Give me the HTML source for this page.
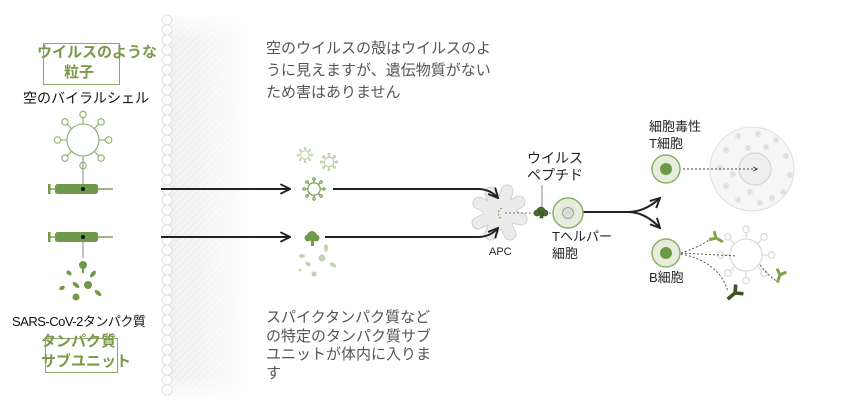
<!DOCTYPE html>
<html><head><meta charset="utf-8"><style>
html,body{margin:0;padding:0;background:#fff;}
body{width:864px;height:415px;overflow:hidden;position:relative;font-family:"Liberation Sans","Noto Sans CJK JP",sans-serif;}
.t{position:absolute;white-space:nowrap;}
</style></head><body>
<svg width="864" height="415" style="position:absolute;left:0;top:0">
<defs>
<pattern id="hat" width="5" height="5" patternUnits="userSpaceOnUse" patternTransform="rotate(45)">
<rect width="5" height="5" fill="#f2f2f2"/><line x1="0" y1="0" x2="0" y2="5" stroke="#e4e4e4" stroke-width="1.5"/>
</pattern>
<linearGradient id="fade" x1="0" x2="1" y1="0" y2="0">
<stop offset="0" stop-color="#fff" stop-opacity="0"/><stop offset="0.3" stop-color="#fff" stop-opacity="0.2"/><stop offset="1" stop-color="#fff" stop-opacity="1"/>
</linearGradient>
<linearGradient id="fadev" x1="0" x2="0" y1="0" y2="1">
<stop offset="0" stop-color="#fff" stop-opacity="1"/><stop offset="0.08" stop-color="#fff" stop-opacity="0"/><stop offset="0.92" stop-color="#fff" stop-opacity="0"/><stop offset="1" stop-color="#fff" stop-opacity="1"/>
</linearGradient>
<g id="vir" fill="none">
<circle r="10"/>
<g id="sp"><line x1="0" y1="-10" x2="0" y2="-14"/><circle cx="0" cy="-16" r="2"/></g>
<use href="#sp" transform="rotate(45)"/><use href="#sp" transform="rotate(90)"/><use href="#sp" transform="rotate(135)"/>
<use href="#sp" transform="rotate(180)"/><use href="#sp" transform="rotate(225)"/><use href="#sp" transform="rotate(270)"/><use href="#sp" transform="rotate(315)"/>
</g>
<marker id="ah" viewBox="0 0 10 10" refX="9" refY="5" markerWidth="6" markerHeight="6" orient="auto"><path d="M1,1 L9,5 L1,9" fill="none" stroke="#222" stroke-width="1.6"/></marker>
<marker id="ah2" viewBox="0 0 10 10" refX="9" refY="5" markerWidth="7" markerHeight="7" orient="auto"><path d="M2,2 L8,5 L2,8" fill="none" stroke="#444" stroke-width="1.2"/></marker>
<g id="ab"><path d="M0,8 L0,0 L-5,-5 M0,0 L5,-5" fill="none" stroke="#7aa648" stroke-width="3"/></g>
<g id="star"><path d="M0,-3 L0,3 M-3,0 L3,0 M-2.1,-2.1 L2.1,2.1 M-2.1,2.1 L2.1,-2.1" stroke="#e0e0e0" stroke-width="1.6"/></g>
<g id="apcarms">
<line x1="500" y1="213" x2="507" y2="191"/><line x1="500" y1="213" x2="519" y2="202"/><line x1="500" y1="213" x2="521" y2="219"/><line x1="500" y1="213" x2="510" y2="234"/><line x1="500" y1="213" x2="491" y2="234"/><line x1="500" y1="213" x2="478" y2="223"/><line x1="500" y1="213" x2="479" y2="203"/><line x1="500" y1="213" x2="491" y2="193"/>
</g>
</defs>
<!-- membrane -->
<rect x="166" y="15" width="90" height="385" fill="url(#hat)"/>
<rect x="166" y="15" width="90" height="385" fill="url(#fade)"/>
<rect x="160" y="10" width="100" height="395" fill="url(#fadev)"/>
<g fill="#fff" stroke="#e2e2e2" stroke-width="1">
<circle cx="167" cy="20" r="5"/><circle cx="167" cy="30" r="5"/><circle cx="167" cy="40" r="5"/><circle cx="167" cy="50" r="5"/><circle cx="167" cy="60" r="5"/><circle cx="167" cy="70" r="5"/><circle cx="167" cy="80" r="5"/><circle cx="167" cy="90" r="5"/><circle cx="167" cy="100" r="5"/><circle cx="167" cy="110" r="5"/><circle cx="167" cy="120" r="5"/><circle cx="167" cy="130" r="5"/><circle cx="167" cy="140" r="5"/><circle cx="167" cy="150" r="5"/><circle cx="167" cy="160" r="5"/><circle cx="167" cy="170" r="5"/><circle cx="167" cy="180" r="5"/><circle cx="167" cy="190" r="5"/><circle cx="167" cy="200" r="5"/><circle cx="167" cy="210" r="5"/><circle cx="167" cy="220" r="5"/><circle cx="167" cy="230" r="5"/><circle cx="167" cy="240" r="5"/><circle cx="167" cy="250" r="5"/><circle cx="167" cy="260" r="5"/><circle cx="167" cy="270" r="5"/><circle cx="167" cy="280" r="5"/><circle cx="167" cy="290" r="5"/><circle cx="167" cy="300" r="5"/><circle cx="167" cy="310" r="5"/><circle cx="167" cy="320" r="5"/><circle cx="167" cy="330" r="5"/><circle cx="167" cy="340" r="5"/><circle cx="167" cy="350" r="5"/><circle cx="167" cy="360" r="5"/><circle cx="167" cy="370" r="5"/><circle cx="167" cy="380" r="5"/><circle cx="167" cy="390" r="5"/>
</g>
<!-- label boxes -->
<rect x="43.5" y="43.5" width="76" height="41" fill="none" stroke="#8aa86a"/>
<rect x="45.5" y="338.5" width="72" height="34" fill="none" stroke="#8aa86a"/>
<!-- left virus -->
<use href="#vir" transform="translate(83,140) scale(1.6)" stroke="#8ab06a" stroke-width="0.7"/>
<line x1="83" y1="158" x2="83" y2="189" stroke="#888"/>
<line x1="83" y1="237" x2="83" y2="258" stroke="#888"/>
<!-- syringes -->
<g id="syr">
<line x1="48" y1="189" x2="113" y2="189" stroke="#7aa352" stroke-width="1.5"/>
<rect x="48" y="184" width="2.5" height="10" fill="#6f9a4a"/>
<rect x="55" y="184" width="43" height="10" rx="2.5" fill="#6f9a4a"/>
<circle cx="83" cy="189" r="2" fill="#111"/>
</g>
<use href="#syr" transform="translate(0,48)"/>
<!-- protein fragments left -->
<g fill="#6f9a4a">
<circle cx="83" cy="265" r="4"/><rect x="82" y="267" width="2" height="6"/>
<ellipse cx="69" cy="273" rx="3" ry="2" transform="rotate(40 69 273)"/>
<ellipse cx="93" cy="274" rx="4" ry="2" transform="rotate(-50 93 274)"/>
<ellipse cx="76" cy="285" rx="4" ry="2" transform="rotate(40 76 285)"/>
<circle cx="88" cy="285" r="4"/>
<ellipse cx="62" cy="288" rx="3" ry="2" transform="rotate(-30 62 288)"/>
<ellipse cx="98" cy="293" rx="4" ry="2" transform="rotate(40 98 293)"/>
<circle cx="76" cy="297" r="3.5"/>
</g>
<!-- APC -->
<use href="#apcarms" stroke="#cfcfcf" stroke-width="13" stroke-linecap="round"/>
<circle cx="500" cy="213" r="17" fill="#cfcfcf"/>
<use href="#apcarms" stroke="#ebebeb" stroke-width="11" stroke-linecap="round"/>
<circle cx="500" cy="213" r="16" fill="#ebebeb"/>
<!-- arrows -->
<g stroke="#222" stroke-width="2" fill="none">
<path d="M161,189 H290" marker-end="url(#ah)"/>
<path d="M161,237 H290" marker-end="url(#ah)"/>
<path d="M333,189 H478 Q490,189 498,198" marker-end="url(#ah)"/>
<path d="M325,237 H478 Q490,237 498,228" marker-end="url(#ah)"/>
<path d="M583,212 H628 Q645,212 660,198" marker-end="url(#ah)"/>
<path d="M628,212 Q645,212 660,228" marker-end="url(#ah)"/>
</g>
<!-- middle viruses -->
<use href="#vir" transform="translate(305,155) scale(0.42)" stroke="#b8cc9e" stroke-width="2.2"/>
<use href="#vir" transform="translate(329,162) scale(0.48)" stroke="#b8cc9e" stroke-width="2.2"/>
<use href="#vir" transform="translate(314,189) scale(0.62)" stroke="#6f9a4a" stroke-width="1.8"/>
<g fill="#6f9a4a"><circle cx="312" cy="236" r="5"/><circle cx="308" cy="238" r="3.5"/><circle cx="316" cy="238" r="3.5"/><rect x="311" y="238" width="3" height="8"/></g>
<g fill="#c4d4b0">
<ellipse cx="326" cy="248" rx="2" ry="4"/><ellipse cx="302" cy="256" rx="3" ry="2"/><circle cx="322" cy="258" r="3.5"/><ellipse cx="308" cy="264" rx="3" ry="2" transform="rotate(30 308 264)"/><ellipse cx="333" cy="265" rx="3.5" ry="2" transform="rotate(30 333 265)"/><circle cx="314" cy="274" r="2.5"/><circle cx="300" cy="270" r="1.5"/>
</g>
<path d="M502,208 a6,6 0 0 0 0,11" fill="none" stroke="#7aa352" stroke-width="1.2" stroke-dasharray="2 1.5"/>
<line x1="505" y1="213" x2="575" y2="213" stroke="#777" stroke-dasharray="2 2"/>
<line x1="542" y1="185" x2="542" y2="208" stroke="#888"/>
<g fill="#4a6e30" stroke="#2c4418" stroke-width="0.6"><circle cx="541" cy="211" r="4"/><circle cx="537" cy="213" r="3"/><circle cx="545" cy="213" r="3"/><rect x="540" y="213" width="3" height="5"/></g>
<!-- T helper -->
<circle cx="568" cy="213" r="15" fill="#e6eddc" stroke="#8ab06a" stroke-width="1.5"/>
<circle cx="568" cy="213" r="5.5" fill="#dcdcdc" stroke="#9aaa88"/>
<!-- cytotoxic -->
<circle cx="752" cy="169" r="42" fill="#f6f6f6" stroke="#dedede"/>
<g>
<use href="#star" x="738" y="136"/><use href="#star" x="758" y="134"/><use href="#star" x="776" y="140"/><use href="#star" x="726" y="150"/><use href="#star" x="786" y="156"/><use href="#star" x="720" y="168"/><use href="#star" x="790" y="175"/><use href="#star" x="726" y="186"/><use href="#star" x="783" y="192"/><use href="#star" x="738" y="200"/><use href="#star" x="760" y="203"/><use href="#star" x="772" y="198"/><use href="#star" x="748" y="148"/><use href="#star" x="733" y="174"/><use href="#star" x="766" y="147"/><use href="#star" x="750" y="192"/>
</g>
<circle cx="755" cy="169" r="16" fill="#efefef" stroke="#cfcfcf"/>
<line x1="683" y1="169" x2="758" y2="169" stroke="#444" stroke-dasharray="2 2" marker-end="url(#ah2)"/>
<circle cx="666" cy="169" r="14" fill="#e6eddc" stroke="#8ab06a" stroke-width="1.5"/>
<circle cx="666" cy="169" r="6" fill="#6b9a47"/>
<!-- B cell -->
<use href="#vir" transform="translate(746,255) scale(1.6)" stroke="#dcdcdc" stroke-width="0.8"/>
<g stroke="#555" fill="none" stroke-dasharray="2 2">
<path d="M681,253 Q705,245 712,237"/><path d="M681,253 L737,256"/><path d="M681,254 Q720,262 728,292"/><path d="M760,265 Q770,278 780,283"/>
</g>
<circle cx="666" cy="253" r="14" fill="#e6eddc" stroke="#8ab06a" stroke-width="1.5"/>
<circle cx="666" cy="253" r="6" fill="#6b9a47"/>
<use href="#ab" transform="translate(716,238) rotate(-60)"/>
<use href="#ab" transform="translate(780,275) rotate(20)"/>
<use href="#ab" transform="translate(735,293) rotate(50) scale(1.2)" style="filter:brightness(0.5)"/>
</svg>
<div class="t" style="left:37px;top:41px;font-size:15px;font-weight:bold;color:#7a9a4a;">ウイルスのような</div>
<div class="t" style="left:64px;top:61px;font-size:15px;font-weight:bold;color:#7a9a4a;">粒子</div>
<div class="t" style="left:23px;top:88px;font-size:14px;color:#111;">空のバイラルシェル</div>
<div class="t" style="left:12px;top:311px;font-size:13px;color:#111;letter-spacing:-0.5px">SARS-CoV-2タンパク質</div>
<div class="t" style="left:41px;top:332px;font-size:15px;font-weight:bold;color:#7a9a4a;line-height:20px">タンパク質<br>サブユニット</div>
<div class="t" style="left:266px;top:38px;font-size:15px;color:#555;line-height:22px">空のウイルスの殻はウイルスのよ<br>うに見えますが、遺伝物質がない<br>ため害はありません</div>
<div class="t" style="left:266px;top:309px;font-size:15px;color:#555;line-height:18.5px">スパイクタンパク質など<br>の特定のタンパク質サブ<br>ユニットが体内に入りま<br>す</div>
<div class="t" style="left:489px;top:246px;font-size:11px;color:#222;">APC</div>
<div class="t" style="left:527px;top:150px;font-size:14px;color:#222;line-height:17px">ウイルス<br>ペプチド</div>
<div class="t" style="left:552px;top:228px;font-size:13px;color:#222;line-height:17px">Tヘルパー<br>細胞</div>
<div class="t" style="left:649px;top:118px;font-size:13px;color:#222;line-height:17px">細胞毒性<br>T細胞</div>
<div class="t" style="left:649px;top:267px;font-size:13px;color:#222;">B細胞</div>
</body></html>
